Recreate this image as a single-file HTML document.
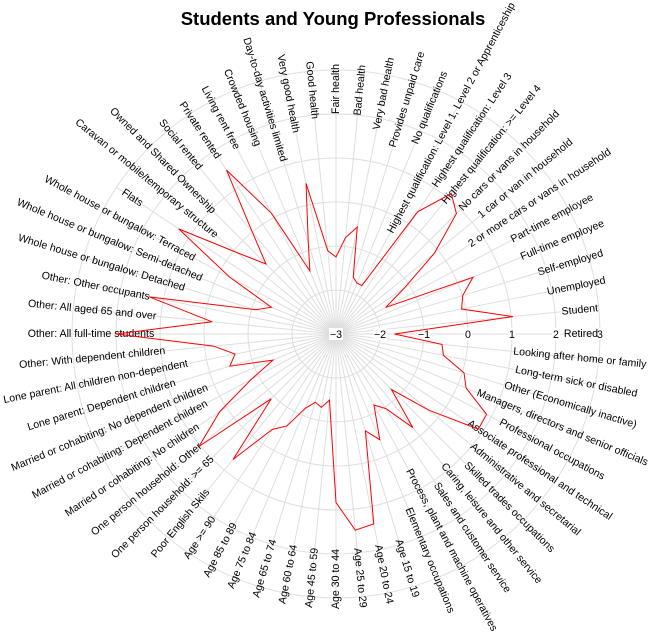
<!DOCTYPE html>
<html><head><meta charset="utf-8">
<style>
html,body{margin:0;padding:0;background:#fff;}
svg{display:block;font-family:"Liberation Sans",Arial,sans-serif;}
</style></head>
<body>
<svg id="chart" width="660" height="642" viewBox="0 0 660 642" xmlns="http://www.w3.org/2000/svg">
<text x="333" y="25" text-anchor="middle" font-size="18.5" font-weight="bold" fill="#000">Students and Young Professionals</text>
<g id="grid"></g>
<g id="ticks"></g>
<g id="labels"></g>
<g id="series"></g>
</svg>
<script>
const categories = ["Retired","Student","Unemployed","Self-employed","Full-time employee","Part-time employee","2 or more cars or vans in household","1 car or van in household","No cars or vans in household","Highest qualification: >= Level 4","Highest qualification: Level 3","Highest qualification: Level 1, Level 2 or Apprenticeship","No qualifications","Provides unpaid care","Very bad health","Bad health","Fair health","Good health","Very good health","Day-to-day activities limited","Crowded housing","Living rent free","Private rented","Social rented","Owned and Shared Ownership","Caravan or mobile/temporary structure","Flats","Whole house or bungalow: Terraced","Whole house or bungalow: Semi-detached","Whole house or bungalow: Detached","Other: Other occupants","Other: All aged 65 and over","Other: All full-time students","Other: With dependent children","Lone parent: All children non-dependent","Lone parent: Dependent children","Married or cohabiting: No dependent children","Married or cohabiting: Dependent children","Married or cohabiting: No children","One person household: Other","One person household: >= 65","Poor English Skils","Age >= 90","Age 85 to 89","Age 75 to 84","Age 65 to 74","Age 60 to 64","Age 45 to 59","Age 30 to 44","Age 25 to 29","Age 20 to 24","Age 15 to 19","Elementary occupations","Process, plant and machine operatives","Sales and customer service","Caring, leisure and other service","Skilled trades occupations","Administrative and secretarial","Associate professional and technical","Professional occupations","Managers, directors and senior officials","Other (Economically inactive)","Long-term sick or disabled","Looking after home or family"];
const values = [-1.67,1.04,-0.09,0.01,0.37,-1.72,-1.15,-0.11,0.87,1.13,0.34,-1.75,-1.75,-1.65,-0.52,-0.8,-1.25,-1.1,0.49,-0.83,-1.45,0.11,1.48,0.0,-0.75,-0.08,1.3,-0.26,-1.41,-1.1,1.33,-0.17,2.0,-0.2,-0.66,-0.48,-1.45,-0.82,0.18,1.03,-0.92,0.69,-0.39,-0.63,-1.17,-1.38,-1.3,-1.49,0.83,1.48,1.4,-0.7,-0.4,-1.17,-0.96,-0.25,-1.22,-0.27,0.89,0.88,0.2,0.04,-0.51,-0.58];
const tickValues = [-3,-2,-1,0,1,2,3];
const tickLabels = ["\u22123","\u22122","\u22121","0","1","2","3"];

const NS="http://www.w3.org/2000/svg";
const cx=336, cy=334, rMin=-3, rMax=3, R=264, labelR=245;
function rScale(v){return (v-rMin)/(rMax-rMin)*R;}
function angleOf(i){return i*360/categories.length;}
function pt(i,v){const a=angleOf(i)*Math.PI/180, r=rScale(v);return [cx+r*Math.cos(a), cy-r*Math.sin(a)];}
function mk(tag,attrs,parent){const e=document.createElementNS(NS,tag);for(const k in attrs)e.setAttribute(k,attrs[k]);parent.appendChild(e);return e;}

const grid=document.getElementById('grid');
tickValues.forEach((t,j)=>{ if(t===rMin) return;
  const c=mk('circle',{cx:cx,cy:cy,r:rScale(t),fill:'none',stroke:'#dedede','stroke-width':1},grid);
  
  
});
categories.forEach((c,i)=>{
  const p=pt(i,rMax);
  const l=mk('line',{x1:cx,y1:cy,x2:p[0],y2:p[1],stroke:'#dedede','stroke-width':1},grid);
  
  
});

const ticks=document.getElementById('ticks');
tickValues.forEach((t,j)=>{
  const x=cx+rScale(t);
  const w=tickLabels[j].length*6+2;
  const bg=mk('rect',{x:x-w/2,y:cy-6,width:w,height:12,fill:'#fff'},ticks);
  
  
  const tx=mk('text',{x:x,y:cy+4,'text-anchor':'middle','font-size':10.6,fill:'#000'},ticks);
  tx.textContent=tickLabels[j];
  
  
});

const labels=document.getElementById('labels');
categories.forEach((c,i)=>{
  const th=angleOf(i), a=th*Math.PI/180;
  const x=cx+labelR*Math.cos(a), y=cy-labelR*Math.sin(a);
  const rot=(th>90 && th<=270)?(180-th):(-th);
  const t=mk('text',{x:x,y:y,'text-anchor':'middle','dominant-baseline':'central','font-size':10.6,fill:'#000',transform:`rotate(${rot} ${x} ${y})`},labels);
  t.textContent=c;
  
  
});

const series=document.getElementById('series');
const pts=values.map((v,i)=>pt(i,v).map(n=>n.toFixed(2)).join(',')).join(' ');
const poly=mk('polygon',{points:pts,fill:'none',stroke:'#ff0000','stroke-width':1},series);


</script>
</body></html>
